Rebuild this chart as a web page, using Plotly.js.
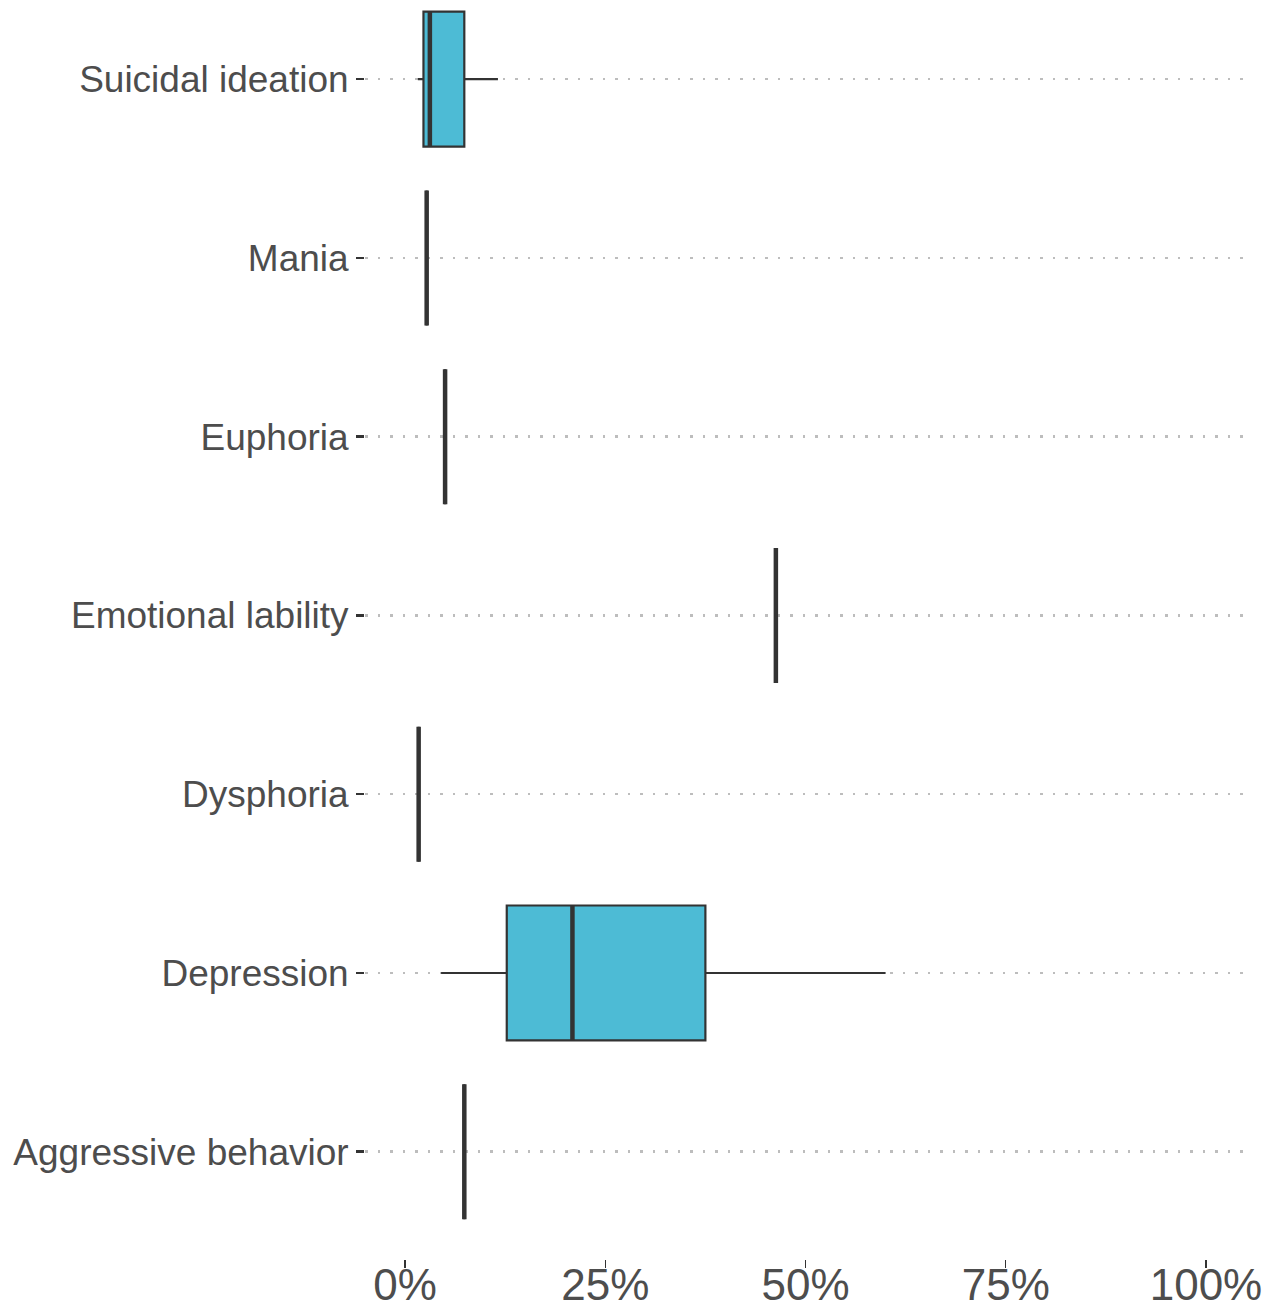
<!DOCTYPE html>
<html>
<head>
<meta charset="utf-8">
<script src="https://cdn.plot.ly/plotly-3.0.1.min.js"></script>
<style>
html,body{margin:0;padding:0;background:#fff;}
#chart{width:1269px;height:1310px;}
</style>
</head>
<body>
<div id="chart"></div>
<script>
// Categories (bottom to top)
var categories = ["Aggressive behavior", "Depression", "Dysphoria", "Emotional lability", "Euphoria", "Mania", "Suicidal ideation"];
// Box statistics in percent
var lowerWhisker = [7.4, 4.5, 1.7, 46.3, 5.0, 2.7, 1.6];
var q1Values     = [7.4, 12.7, 1.7, 46.3, 5.0, 2.7, 2.3];
var medianValues = [7.4, 20.9, 1.7, 46.3, 5.0, 2.7, 3.1];
var q3Values     = [7.4, 37.5, 1.7, 46.3, 5.0, 2.7, 7.4];
var upperWhisker = [7.4, 60.0, 1.7, 46.3, 5.0, 2.7, 11.6];
var xTickVals = [0, 25, 50, 75, 100];
var xTickText = ["0%", "25%", "50%", "75%", "100%"];

var idx = categories.map(function(c, i){ return i; });
var boxWidth = 0.755;
var half = boxWidth / 2;

var traces = [{
  type: 'box',
  orientation: 'h',
  y: idx,
  q1: q1Values,
  median: medianValues,
  q3: q3Values,
  lowerfence: lowerWhisker,
  upperfence: upperWhisker,
  width: boxWidth,
  whiskerwidth: 0,
  fillcolor: '#4DBBD5',
  line: {color: '#333333', width: 2.2},
  hoverinfo: 'skip',
  showlegend: false
}];

// thick median lines
var mx = [], my = [];
medianValues.forEach(function(m, i){
  mx.push(m, m, null);
  my.push(i - half, i + half, null);
});
traces.push({
  type: 'scatter', mode: 'lines', x: mx, y: my,
  line: {color: '#333333', width: 4.5},
  hoverinfo: 'skip', showlegend: false
});

var layout = {
  width: 1269, height: 1310,
  margin: {l: 365, r: 23, t: 0, b: 51},
  paper_bgcolor: '#ffffff', plot_bgcolor: '#ffffff',
  font: {family: 'Liberation Sans, Arial, sans-serif', color: '#4d4d4d'},
  xaxis: {
    range: [-5, 105],
    tickvals: xTickVals, ticktext: xTickText,
    showgrid: false, zeroline: false, showline: false,
    ticks: 'outside', ticklen: 8, tickwidth: 1.5, tickcolor: '#333333',
    ticklabelstandoff: -21,
    tickfont: {size: 44, color: '#4d4d4d'},
    automargin: false, fixedrange: true
  },
  yaxis: {
    range: [-0.6, 6.443],
    tickvals: idx, ticktext: categories,
    showgrid: true, gridcolor: '#bdbdbd', gridwidth: 2.5, griddash: '2.5px,10px',
    zeroline: false, showline: false,
    ticks: 'outside', ticklen: 8, tickwidth: 2.5, tickcolor: '#333333',
    tickfont: {size: 37, color: '#4d4d4d'},
    automargin: false, fixedrange: true
  }
};

Plotly.newPlot('chart', traces, layout, {displayModeBar: false, staticPlot: true});
</script>
</body>
</html>
